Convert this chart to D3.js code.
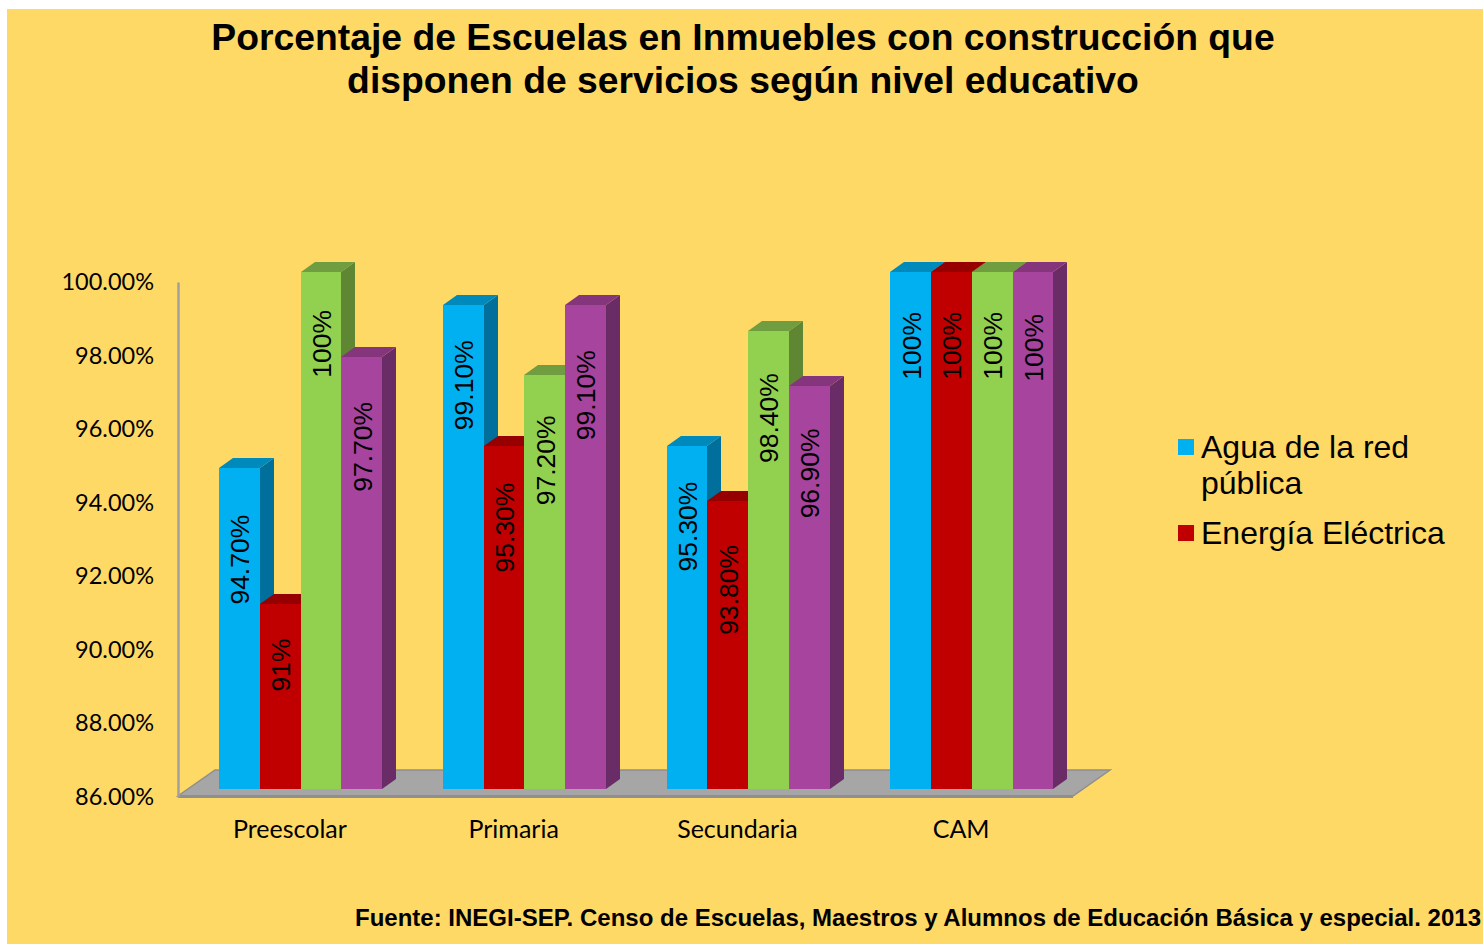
<!DOCTYPE html>
<html>
<head>
    <title>Porcentaje de Escuelas en Inmuebles con construcción</title>
    <script src="https://d3js.org/d3.v7.min.js"></script>
    <style>
        html, body { margin: 0; padding: 0; background: #fff; overflow: hidden; }
        svg { display: block; }
        .sans { font-family: "Liberation Sans", Arial, sans-serif; fill: #000; }
        .tick text { font-family: Lato, sans-serif; fill: #000; }
    </style>
</head>
<body>
    <div id="chart"></div>
    <script>
        const categories = ["Preescolar", "Primaria", "Secundaria", "CAM"];
        const agua = [94.7, 99.1, 95.3, 100];
        const energia = [91, 95.3, 93.8, 100];
        const tercera = [100, 97.2, 98.4, 100];
        const cuarta = [97.7, 99.1, 96.9, 100];
        const yTicks = [86, 88, 90, 92, 94, 96, 98, 100];
        const legendLabels = [["Agua de la red", "pública"], ["Energía Eléctrica"]];

        const width = 1483, height = 944;
        const series = [agua, energia, tercera, cuarta];
        const colors = [
            {front: "#00B0F0", top: "#0089BB", side: "#006F9C"},
            {front: "#C00000", top: "#960000", side: "#7F0000"},
            {front: "#92D050", top: "#6F9D3F", side: "#5F8632"},
            {front: "#A6449E", top: "#84357C", side: "#6A2C66"}
        ];
        // depth of the fake 3d
        const dx = 14, dy = 10;

        // the labels were moved by hand in the original, gap from bar top to text
        const labelGap = [
            [47, 35, 36, 40],
            [34, 37, 44, 40],
            [38, 40, 42, 40],
            [45, 45, 42, 42]
        ];

        const svg = d3.select("#chart").append("svg")
            .attr("width", width)
            .attr("height", height);

        svg.append("rect")
            .attr("x", 7).attr("y", 9)
            .attr("width", width - 7).attr("height", height - 9)
            .attr("fill", "#FFD966");

        const x0 = d3.scaleBand().domain(categories).range([178, 1073]);
        const x1 = d3.scaleBand().domain(d3.range(4)).range([41, 204]);
        const yBar = d3.scaleLinear().domain([86, 100]).range([789, 272]);
        const yAxis = d3.scaleLinear().domain([86, 100]).range([796, 281]);

        // floor
        const fl = x0.range()[0], fr = x0.range()[1], fy = yAxis(86);
        svg.append("polygon")
            .attr("points", [[fl, fy], [fr, fy], [fr + 37, fy - 26], [fl + 37, fy - 26]].join(" "))
            .attr("fill", "#A6A6A6")
            .attr("stroke", "#8F8F8F")
            .attr("stroke-width", 1.5);
        svg.append("line")
            .attr("x1", fl).attr("x2", fr)
            .attr("y1", fy + 0.5).attr("y2", fy + 0.5)
            .attr("stroke", "#8F8F8F")
            .attr("stroke-width", 3);

        // bars, left to right so each one covers the side of the one before
        categories.forEach((cat, c) => {
            series.forEach((values, s) => {
                const left = Math.round(x0(cat) + x1(s));
                const right = Math.round(x0(cat) + x1(s) + x1.bandwidth());
                const top = Math.round(yBar(values[c]));
                const base = yBar(86);
                const g = svg.append("g");
                g.append("polygon")
                    .attr("points", [[right, top], [right + dx, top - dy], [right + dx, base - dy], [right, base]].join(" "))
                    .attr("fill", colors[s].side);
                g.append("polygon")
                    .attr("points", [[left, top], [left + dx, top - dy], [right + dx, top - dy], [right, top]].join(" "))
                    .attr("fill", colors[s].top);
                g.append("rect")
                    .attr("x", left).attr("y", top)
                    .attr("width", right - left).attr("height", base - top)
                    .attr("fill", colors[s].front);
            });
        });

        categories.forEach((cat, c) => {
            series.forEach((values, s) => {
                const v = values[c];
                const tx = x0(cat) + x1(s) + x1.bandwidth() / 2 + 10;
                const ty = yBar(v) + labelGap[s][c];
                svg.append("text")
                    .attr("class", "sans")
                    .attr("transform", "translate(" + tx + "," + ty + ") rotate(-90)")
                    .attr("text-anchor", "end")
                    .style("font-size", "26.5px")
                    .text(Number.isInteger(v) ? v + "%" : v.toFixed(2) + "%");
            });
        });

        // y axis
        const yG = svg.append("g")
            .attr("transform", "translate(178,1)")
            .call(d3.axisLeft(yAxis).tickValues(yTicks).tickSize(0).tickPadding(24)
                .tickFormat(d => d.toFixed(2) + "%"));
        yG.select(".domain").attr("stroke", "#A0A0A0").attr("stroke-width", 2.5);
        yG.selectAll(".tick text").style("font-size", "23.5px");

        // x axis labels
        const xG = svg.append("g")
            .attr("transform", "translate(0," + 796 + ")")
            .call(d3.axisBottom(x0).tickSize(0).tickPadding(24));
        xG.select(".domain").remove();
        xG.selectAll(".tick text").style("font-size", "25px");

        // title
        svg.append("text").attr("class", "sans")
            .attr("x", 743).attr("y", 50)
            .attr("text-anchor", "middle")
            .style("font-size", "37.3px").style("font-weight", "bold")
            .text("Porcentaje de Escuelas en Inmuebles con construcción que");
        svg.append("text").attr("class", "sans")
            .attr("x", 743).attr("y", 93)
            .attr("text-anchor", "middle")
            .style("font-size", "37.3px").style("font-weight", "bold")
            .text("disponen de servicios según nivel educativo");

        // legend
        const legendY = [458, 544];
        legendLabels.forEach((lines, i) => {
            svg.append("rect")
                .attr("x", 1178).attr("y", legendY[i] - 19)
                .attr("width", 16).attr("height", 16)
                .attr("fill", colors[i].front);
            lines.forEach((line, j) => {
                svg.append("text").attr("class", "sans")
                    .attr("x", 1201).attr("y", legendY[i] + j * 36)
                    .style("font-size", "32px")
                    .text(line);
            });
        });

        // source
        svg.append("text").attr("class", "sans")
            .attr("x", 355).attr("y", 926)
            .style("font-size", "24px").style("font-weight", "bold")
            .attr("textLength", 1126)
            .text("Fuente: INEGI-SEP. Censo de Escuelas, Maestros y Alumnos de Educación Básica y especial. 2013");
    </script>
</body>
</html>
